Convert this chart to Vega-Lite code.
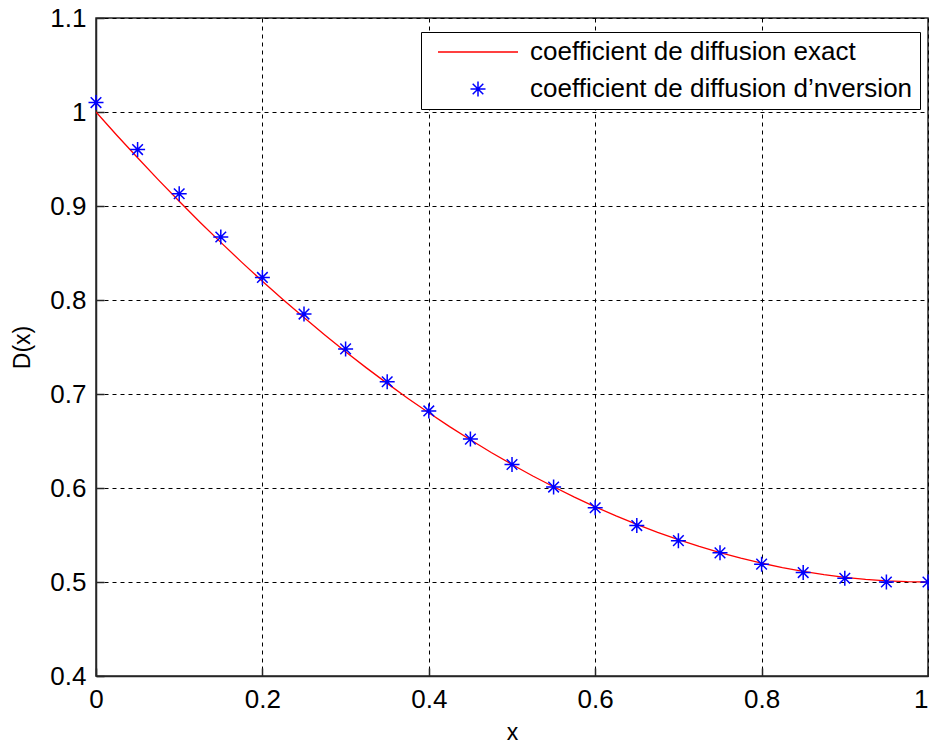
{
  "$schema": "https://vega.github.io/schema/vega-lite/v6.json",
  "width": 832,
  "height": 658,
  "autosize": {"type": "none"},
  "padding": {"left": 96, "top": 18, "right": 1, "bottom": 68},
  "background": "white",
  "config": {
    "font": "Liberation Sans",
    "view": {"stroke": "#262626", "strokeWidth": 1.5},
    "axis": {
      "labelFont": "Liberation Sans",
      "labelFontSize": 26,
      "labelColor": "black",
      "titleFont": "Liberation Sans",
      "titleFontSize": 23,
      "titleFontWeight": "normal",
      "titleColor": "black",
      "domainColor": "#262626",
      "domainWidth": 1.5,
      "tickColor": "#262626",
      "tickSize": -8,
      "tickWidth": 1.5,
      "grid": true,
      "gridColor": "black",
      "gridDash": [4, 4],
      "gridOpacity": 1,
      "gridWidth": 1
    }
  },
  "datasets": {
    "exact": [
      {"x": 0, "D": 1.0, "series": "coefficient de diffusion exact"},
      {"x": 0.025, "D": 0.9753, "series": "coefficient de diffusion exact"},
      {"x": 0.05, "D": 0.9513, "series": "coefficient de diffusion exact"},
      {"x": 0.075, "D": 0.9278, "series": "coefficient de diffusion exact"},
      {"x": 0.1, "D": 0.905, "series": "coefficient de diffusion exact"},
      {"x": 0.125, "D": 0.8828, "series": "coefficient de diffusion exact"},
      {"x": 0.15, "D": 0.8613, "series": "coefficient de diffusion exact"},
      {"x": 0.175, "D": 0.8403, "series": "coefficient de diffusion exact"},
      {"x": 0.2, "D": 0.82, "series": "coefficient de diffusion exact"},
      {"x": 0.225, "D": 0.8003, "series": "coefficient de diffusion exact"},
      {"x": 0.25, "D": 0.7813, "series": "coefficient de diffusion exact"},
      {"x": 0.275, "D": 0.7628, "series": "coefficient de diffusion exact"},
      {"x": 0.3, "D": 0.745, "series": "coefficient de diffusion exact"},
      {"x": 0.325, "D": 0.7278, "series": "coefficient de diffusion exact"},
      {"x": 0.35, "D": 0.7113, "series": "coefficient de diffusion exact"},
      {"x": 0.375, "D": 0.6953, "series": "coefficient de diffusion exact"},
      {"x": 0.4, "D": 0.68, "series": "coefficient de diffusion exact"},
      {"x": 0.425, "D": 0.6653, "series": "coefficient de diffusion exact"},
      {"x": 0.45, "D": 0.6513, "series": "coefficient de diffusion exact"},
      {"x": 0.475, "D": 0.6378, "series": "coefficient de diffusion exact"},
      {"x": 0.5, "D": 0.625, "series": "coefficient de diffusion exact"},
      {"x": 0.525, "D": 0.6128, "series": "coefficient de diffusion exact"},
      {"x": 0.55, "D": 0.6013, "series": "coefficient de diffusion exact"},
      {"x": 0.575, "D": 0.5903, "series": "coefficient de diffusion exact"},
      {"x": 0.6, "D": 0.58, "series": "coefficient de diffusion exact"},
      {"x": 0.625, "D": 0.5703, "series": "coefficient de diffusion exact"},
      {"x": 0.65, "D": 0.5613, "series": "coefficient de diffusion exact"},
      {"x": 0.675, "D": 0.5528, "series": "coefficient de diffusion exact"},
      {"x": 0.7, "D": 0.545, "series": "coefficient de diffusion exact"},
      {"x": 0.725, "D": 0.5378, "series": "coefficient de diffusion exact"},
      {"x": 0.75, "D": 0.5313, "series": "coefficient de diffusion exact"},
      {"x": 0.775, "D": 0.5253, "series": "coefficient de diffusion exact"},
      {"x": 0.8, "D": 0.52, "series": "coefficient de diffusion exact"},
      {"x": 0.825, "D": 0.5153, "series": "coefficient de diffusion exact"},
      {"x": 0.85, "D": 0.5113, "series": "coefficient de diffusion exact"},
      {"x": 0.875, "D": 0.5078, "series": "coefficient de diffusion exact"},
      {"x": 0.9, "D": 0.505, "series": "coefficient de diffusion exact"},
      {"x": 0.925, "D": 0.5028, "series": "coefficient de diffusion exact"},
      {"x": 0.95, "D": 0.5013, "series": "coefficient de diffusion exact"},
      {"x": 0.975, "D": 0.5003, "series": "coefficient de diffusion exact"},
      {"x": 1.0, "D": 0.5, "series": "coefficient de diffusion exact"}
    ],
    "inversion": [
      {"x": 0, "D": 1.01, "series": "coefficient de diffusion d’nversion"},
      {"x": 0.05, "D": 0.96, "series": "coefficient de diffusion d’nversion"},
      {"x": 0.1, "D": 0.913, "series": "coefficient de diffusion d’nversion"},
      {"x": 0.15, "D": 0.867, "series": "coefficient de diffusion d’nversion"},
      {"x": 0.2, "D": 0.824, "series": "coefficient de diffusion d’nversion"},
      {"x": 0.25, "D": 0.785, "series": "coefficient de diffusion d’nversion"},
      {"x": 0.3, "D": 0.748, "series": "coefficient de diffusion d’nversion"},
      {"x": 0.35, "D": 0.713, "series": "coefficient de diffusion d’nversion"},
      {"x": 0.4, "D": 0.682, "series": "coefficient de diffusion d’nversion"},
      {"x": 0.45, "D": 0.652, "series": "coefficient de diffusion d’nversion"},
      {"x": 0.5, "D": 0.625, "series": "coefficient de diffusion d’nversion"},
      {"x": 0.55, "D": 0.601, "series": "coefficient de diffusion d’nversion"},
      {"x": 0.6, "D": 0.579, "series": "coefficient de diffusion d’nversion"},
      {"x": 0.65, "D": 0.56, "series": "coefficient de diffusion d’nversion"},
      {"x": 0.7, "D": 0.544, "series": "coefficient de diffusion d’nversion"},
      {"x": 0.75, "D": 0.531, "series": "coefficient de diffusion d’nversion"},
      {"x": 0.8, "D": 0.519, "series": "coefficient de diffusion d’nversion"},
      {"x": 0.85, "D": 0.51, "series": "coefficient de diffusion d’nversion"},
      {"x": 0.9, "D": 0.504, "series": "coefficient de diffusion d’nversion"},
      {"x": 0.95, "D": 0.5, "series": "coefficient de diffusion d’nversion"},
      {"x": 1.0, "D": 0.5, "series": "coefficient de diffusion d’nversion"}
    ]
  },
  "encoding": {
    "x": {
      "field": "x", "type": "quantitative",
      "scale": {"domain": [0, 1], "nice": false, "zero": false},
      "axis": {
        "title": "x", "format": "~g",
        "values": [0, 0.2, 0.4, 0.6, 0.8, 1],
        "labelPadding": 18, "titlePadding": 9, "labelFlush": false,
        "labelAlign": {"condition": {"test": "datum.value == 1", "value": "right"}, "value": "center"}
      }
    },
    "y": {
      "field": "D", "type": "quantitative",
      "scale": {"domain": [0.4, 1.1], "nice": false, "zero": false},
      "axis": {"title": "D(x)", "format": "~g", "values": [0.4, 0.5, 0.6, 0.7, 0.8, 0.9, 1, 1.1], "labelPadding": 18, "titlePadding": 15, "labelFlush": false}
    }
  },
  "layer": [
    {
      "data": {"name": "exact"},
      "mark": {"type": "line", "strokeWidth": 1.3, "clip": true},
      "encoding": {
        "color": {
          "field": "series", "type": "nominal",
          "scale": {"domain": ["coefficient de diffusion exact", "coefficient de diffusion d’nversion"], "range": ["#ff0000", "#0000ff"]}
        }
      }
    },
    {
      "data": {"name": "inversion"},
      "mark": {"type": "point", "filled": false, "size": 100, "strokeWidth": 1.5, "opacity": 1},
      "encoding": {
        "color": {
          "field": "series", "type": "nominal",
          "scale": {"domain": ["coefficient de diffusion exact", "coefficient de diffusion d’nversion"], "range": ["#ff0000", "#0000ff"]},
          "legend": {
            "title": null,
            "orient": "none",
            "legendX": 325,
            "legendY": 14,
            "padding": 7,
            "symbolOffset": 37,
            "labelOffset": 39,
            "rowPadding": 11,
            "labelFont": "Liberation Sans",
            "labelFontSize": 26,
            "labelColor": "black",
            "labelLimit": 500,
            "symbolSize": 100,
            "symbolStrokeWidth": 1.5,
            "strokeColor": "black",
            "fillColor": "white",
            "cornerRadius": 0
          }
        },
        "shape": {
          "field": "series", "type": "nominal",
          "scale": {"domain": ["coefficient de diffusion exact", "coefficient de diffusion d’nversion"], "range": ["M-8,0L8,0", "M-1.5,0L1.5,0M0,-1.5L0,1.5M-1.06,-1.06L1.06,1.06M-1.06,1.06L1.06,-1.06"]},
          "legend": {
            "title": null,
            "orient": "none",
            "legendX": 325,
            "legendY": 14,
            "padding": 7,
            "symbolOffset": 37,
            "labelOffset": 39,
            "rowPadding": 11,
            "labelFont": "Liberation Sans",
            "labelFontSize": 26,
            "labelColor": "black",
            "labelLimit": 500,
            "symbolSize": 100,
            "symbolStrokeWidth": 1.5,
            "strokeColor": "black",
            "fillColor": "white",
            "cornerRadius": 0
          }
        }
      }
    }
  ]
}
